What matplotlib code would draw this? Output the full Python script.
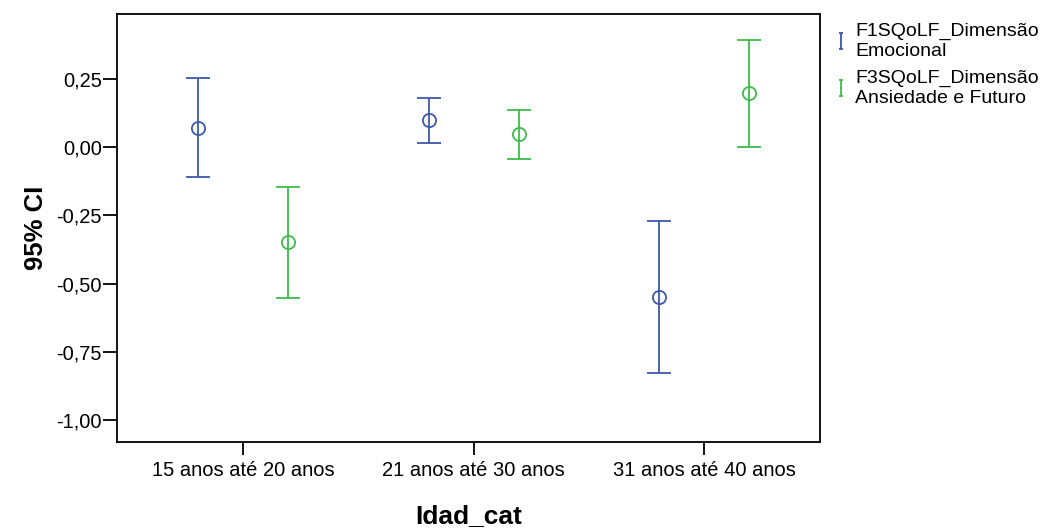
import matplotlib.pyplot as plt
from matplotlib.lines import Line2D
from matplotlib.path import Path
import numpy as np

plt.rcParams['font.family'] = ['Liberation Sans', 'DejaVu Sans']

# Age groups on the x axis
categories = ['15 anos até 20 anos', '21 anos até 30 anos', '31 anos até 40 anos']

# Series: mean and 95% CI bounds
f1_label = 'F1SQoLF_Dimensão\nEmocional'
f1_mean = [0.070, 0.099, -0.549]
f1_low = [-0.110, 0.015, -0.827]
f1_high = [0.252, 0.179, -0.271]

f3_label = 'F3SQoLF_Dimensão\nAnsiedade e Futuro'
f3_mean = [-0.348, 0.048, 0.198]
f3_low = [-0.553, -0.044, 0.000]
f3_high = [-0.146, 0.135, 0.392]

yticks = [0.25, 0.0, -0.25, -0.5, -0.75, -1.0]

blue = '#3e58ac'
green = '#3cbd4a'

fig = plt.figure(figsize=(10.46, 5.29), dpi=100)
ax = fig.add_axes([0.1119, 0.1645, 0.6721, 0.809])

x = np.arange(len(categories))
offset = 0.195

for xs, mean, low, high, color in [
    (x - offset, f1_mean, f1_low, f1_high, blue),
    (x + offset, f3_mean, f3_low, f3_high, green),
]:
    mean = np.array(mean)
    err = [mean - np.array(low), np.array(high) - mean]
    ax.errorbar(xs, mean, yerr=err, fmt='o', mfc='none', mec=color, ms=9.5,
                mew=1.3, ecolor=color, elinewidth=1.3, capsize=8.3, capthick=1.3)

# legend handle: small "I" shaped error bar symbol, like SPSS
ibar = Path([(-0.3, -1), (0.3, -1), (0, -1), (0, 1), (-0.3, 1), (0.3, 1)],
            [Path.MOVETO, Path.LINETO, Path.MOVETO, Path.LINETO, Path.MOVETO, Path.LINETO])
h1 = Line2D([], [], linestyle='none', marker=ibar, markersize=11, mec=blue, mfc='none', mew=1.3)
h3 = Line2D([], [], linestyle='none', marker=ibar, markersize=11, mec=green, mfc='none', mew=1.3)
leg = ax.legend([h1, h3], [f1_label, f3_label], loc='upper left', bbox_to_anchor=(1.0115, 1.0),
                frameon=False, fontsize=14, handlelength=0.4, handletextpad=0.55, numpoints=1,
                labelspacing=0.55, borderaxespad=0.05)
for t in leg.get_texts():
    t.set_linespacing(1.2)

ax.set_xlim(-0.547, 2.503)
ax.set_ylim(-1.079, 0.487)
ax.set_xticks(x)
ax.set_xticklabels(categories, fontsize=14.5)
ax.set_yticks(yticks)
ax.set_yticklabels([f'{v:.2f}'.replace('.', ',') for v in yticks], fontsize=14.5)
ax.tick_params(axis='x', length=9, width=1.3, pad=5)
ax.tick_params(axis='y', length=10, width=1.3, pad=1)
for s in ax.spines.values():
    s.set_linewidth(1.3)

ax.set_xlabel('Idad_cat', fontsize=19, fontweight='bold', labelpad=17)
ax.set_ylabel('95% CI', fontsize=18.5, fontweight='bold', labelpad=6)

fig.savefig('out.png', dpi=100)
